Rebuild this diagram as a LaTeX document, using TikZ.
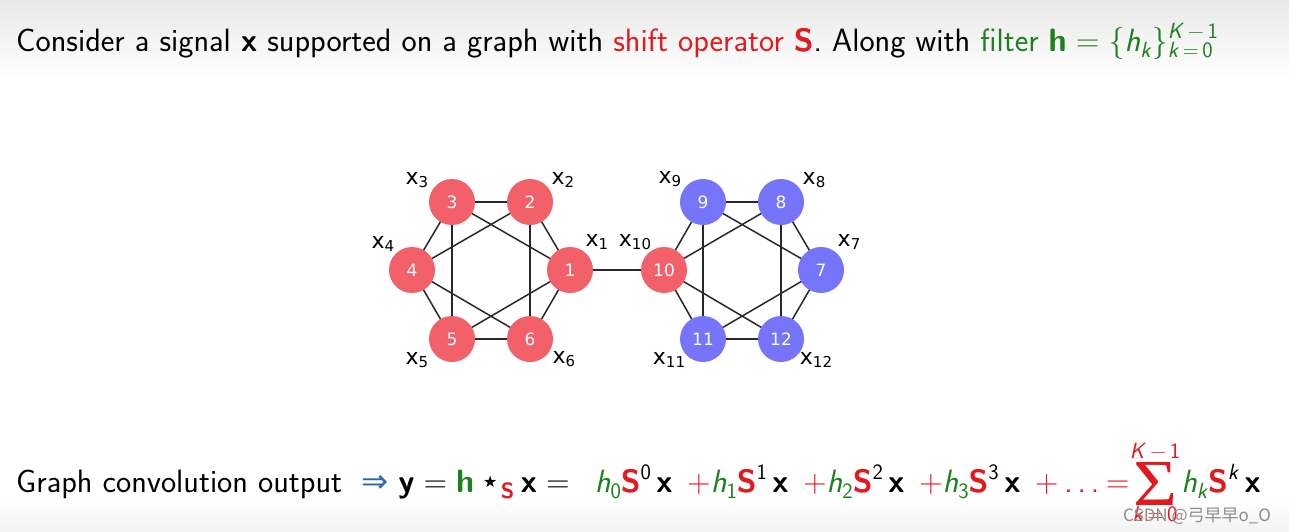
\documentclass[tikz,border=0pt]{standalone}
\usepackage{fontspec}
\usepackage{graphicx}
\usetikzlibrary{backgrounds}
\renewcommand{\familydefault}{\sfdefault}
\newfontfamily\dejavu{DejaVu Sans}
\newfontfamily\tms{Liberation Serif}
\newfontfamily\cjk{Noto Sans CJK SC}
\definecolor{tred}{RGB}{226,26,32}
\definecolor{tgreen}{RGB}{30,128,30}
\definecolor{tblue}{RGB}{50,100,170}
\definecolor{nred}{RGB}{242,96,106}
\definecolor{nblue}{RGB}{118,116,248}
\definecolor{edgecol}{RGB}{40,40,40}
\newcommand{\xlab}[1]{{\dejavu x\raisebox{-0.3ex}{\fontsize{15}{15}\selectfont #1}}}
\newcommand{\cR}[1]{{\color{tred}#1}}
\newcommand{\cG}[1]{{\color{tgreen}#1}}
\newcommand{\ssz}{\fontsize{22}{22}\selectfont}
\newcommand{\sbs}[1]{\raisebox{-6pt}{\ssz #1}}
\newcommand{\sps}[1]{\raisebox{13pt}{\ssz #1}}
\newcommand{\eq}{\hspace{0.28em}=\hspace{0.28em}}
\newcommand{\term}[1]{\cG{\textsl{h}\sbs{#1}}\cR{\textbf{S}}\sps{#1}\hspace{0.17em}\textbf{x}}
\newcommand{\tgap}{\hspace{0.45em}}
\tikzset{
  vtx/.style={circle, minimum size=46pt, inner sep=0pt, text=white,
    font=\dejavu\fontsize{17}{17}\selectfont},
  rv/.style={vtx, fill=nred},
  bv/.style={vtx, fill=nblue},
  edge/.style={draw=edgecol, line width=1.5pt},
  lab/.style={inner sep=0pt, font=\fontsize{22}{22}\selectfont},
  bigtext/.style={anchor=base west, inner sep=0pt, font=\fontsize{32.3}{38}\selectfont}
}
\begin{document}
\begin{tikzpicture}[x=1pt,y=-1pt]
\useasboundingbox (0,0) rectangle (1289,532);
\begin{scope}[on background layer]
  \fill[white] (0,0) rectangle (1289,532);
  \shade[top color=black!9, bottom color=white] (0,0) rectangle (1289,78);
  \shade[top color=white, bottom color=black!5] (0,500) rectangle (1289,532);
\end{scope}

% title
\node[bigtext] (title) at (16,52) {Consider a signal \textbf{x} supported on a graph with \cR{shift operator \textbf{S}}. Along with \cG{filter \textbf{h}\eq\{\textsl{h}\sbs{\textsl{k}}\}\rlap{\sps{\textsl{K}\,−\,1}}\sbs{\textsl{k}\,=\,0}}};

% left hexagon
\node[rv] (n1) at (570,270) {1};
\node[rv] (n2) at (530,202) {2};
\node[rv] (n3) at (452,202) {3};
\node[rv] (n4) at (412,270) {4};
\node[rv] (n5) at (452,339) {5};
\node[rv] (n6) at (530,339) {6};
% right hexagon
\node[bv] (n7) at (821,270) {7};
\node[bv] (n8) at (781,202) {8};
\node[bv] (n9) at (703,202) {9};
\node[rv] (n10) at (664,270) {10};
\node[bv] (n11) at (703,339) {11};
\node[bv] (n12) at (781,339) {12};

\begin{scope}[on background layer]
  \foreach \a/\b in {1/2,2/3,3/4,4/5,5/6,6/1,1/3,3/5,5/1,2/4,4/6,6/2,
                     7/8,8/9,9/10,10/11,11/12,12/7,7/9,9/11,11/7,8/10,10/12,12/8,1/10}
    \draw[edge] (n\a.center) -- (n\b.center);
\end{scope}

% labels
\node[lab] (l1) at (597,242) {\xlab{1}};
\node[lab] (l2) at (563,180) {\xlab{2}};
\node[lab] (l3) at (417,180) {\xlab{3}};
\node[lab] (l4) at (383,244) {\xlab{4}};
\node[lab] (l5) at (417,360) {\xlab{5}};
\node[lab] (l6) at (564,359) {\xlab{6}};
\node[lab] (l7) at (849,242) {\xlab{7}};
\node[lab] (l8) at (814,180) {\xlab{8}};
\node[lab] (l9) at (670,179) {\xlab{9}};
\node[lab] (l10) at (635,242) {\xlab{10}};
\node[lab] (l11) at (669,360) {\xlab{11}};
\node[lab] (l12) at (816,360) {\xlab{12}};

% convolution line
\node[bigtext] (conv) at (16,492) {Graph convolution output\hspace{0.6em}{\color{tblue}\dejavu ⇒}\hspace{0.3em}\textbf{y}\eq\cG{\textbf{h}}\hspace{0.2em}{\dejavu ⋆}\sbs{\cR{\textbf{S}}}\hspace{0.2em}\textbf{x}\eq\hspace{0.5em}\term{0}\tgap\cR{+}\term{1}\tgap\cR{+}\term{2}\tgap\cR{+}\term{3}\tgap\cR{+\hspace{0.18em}.\hspace{0.15em}.\hspace{0.15em}.\hspace{0.2em}=\hspace{0.08em}}\cR{\makebox[46pt]{\makebox[0pt]{\raisebox{34pt}{\ssz\textsl{K}\,−\,1}}\makebox[0pt]{\raisebox{-13pt}{\resizebox*{44pt}{43pt}{\tms Σ}}}\makebox[0pt]{\raisebox{-29pt}{\ssz\textsl{k}\,=\,0}}}}\hspace{0.1em}\cG{\textsl{h}\sbs{\textsl{k}}}\cR{\textbf{S}}\sps{\textsl{k}}\hspace{0.17em}\textbf{x}};

% watermark
\node[anchor=base west, inner sep=0pt, text=black!45, font=\cjk\fontsize{17}{17}\selectfont] (wm) at (1123,521) {CSDN @弓早早o\_O};
\end{tikzpicture}
\end{document}
